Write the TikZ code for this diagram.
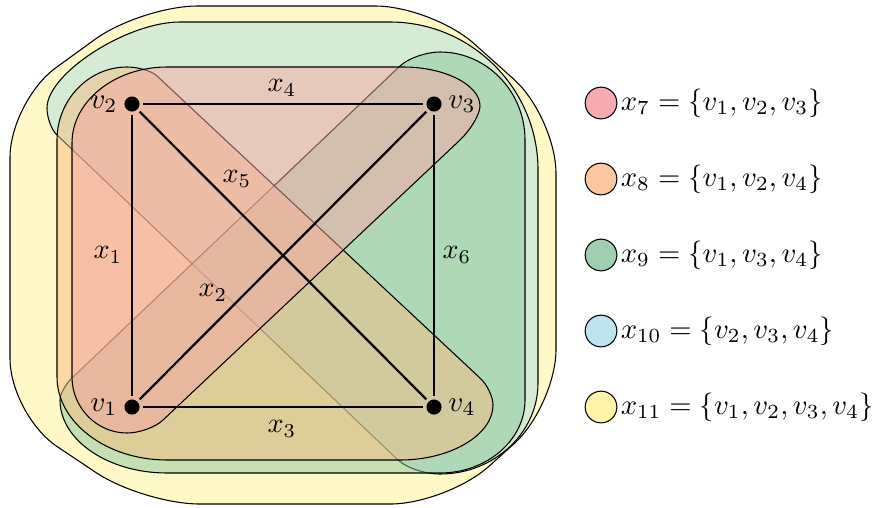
\documentclass[tikz,border=0pt]{standalone}
% shape fills (drawn at half opacity)
\definecolor{fSeven}{RGB}{246,166,165}
\definecolor{fEight}{RGB}{245,187,130}
\definecolor{fNine}{RGB}{137,199,156}
\definecolor{fTen}{RGB}{173,223,224}
\definecolor{fEleven}{RGB}{255,243,145}
% legend fills
\definecolor{cSeven}{RGB}{248,170,178}
\definecolor{cEight}{RGB}{251,199,160}
\definecolor{cNine}{RGB}{160,206,176}
\definecolor{cTen}{RGB}{190,228,240}
\definecolor{cEleven}{RGB}{254,244,168}
\tikzset{
  hyper/.style={draw=black, line width=0.4pt, fill opacity=0.5},
  vtx/.style={circle, fill=black, inner sep=0pt, minimum size=0.2cm, outer sep=0.045cm},
  gedge/.style={line width=0.85pt},
  lab/.style={inner sep=1pt, scale=1.06},
  vlab/.style={inner sep=1pt, scale=1.1},
  legc/.style={circle, draw=black, line width=0.4pt, inner sep=0pt, minimum size=0.42cm},
  legt/.style={anchor=west, inner sep=1pt, scale=1.08},
}
\begin{document}
\begin{tikzpicture}[x=0.013245cm, y=-0.013245cm]
\useasboundingbox (0,0) rectangle (873,507);
% x11
\path[hyper, fill=fEleven, rounded corners=0.75cm] (286,6) -- (432,6) -- (556,117) -- (556,406) -- (447,504) -- (143,504) -- (10,415) -- (10,101) -- (141,6) -- cycle;
% x10
\path[hyper, fill=fTen] (57,135) .. controls (51.5,130) and (47,117.6) .. (47,108)
  .. controls (47,73.6) and (126.8,22) .. (180,22)
  -- (390,22)
  .. controls (471.4,22) and (538,88.6) .. (538,170)
  -- (538,383)
  .. controls (538,433) and (494,474) .. (440,474)
  .. controls (425,474) and (406.1,467.7) .. (398,460)
  -- cycle;
% x9
\path[hyper, fill=fNine] (72,378) -- (400,66) .. controls (408.1,58.3) and (426.1,52) .. (440,52)
  .. controls (486.8,52) and (525,91.6) .. (525,140)
  -- (525,400)
  .. controls (525,440.2) and (486.8,473) .. (440,473)
  -- (167,473)
  .. controls (108.2,473) and (60,440.2) .. (60,400)
  .. controls (60,394.2) and (65.4,384.3) .. (72,378) -- cycle;
% x8
\path[hyper, fill=fEight] (57,377) -- (57,140) .. controls (57,100) and (88.5,67) .. (127,67)
  .. controls (138,67) and (151.7,71) .. (157,76)
  -- (480,378)
  .. controls (487.2,384.6) and (493,396.8) .. (493,405)
  .. controls (493,434.7) and (451,460) .. (400,460)
  -- (167,460)
  .. controls (106.5,460) and (57,422.4) .. (57,377) -- cycle;
% x7
\path[hyper, fill=fSeven] (72,377) -- (72,143) .. controls (72,101) and (115,67) .. (167,67)
  -- (403,67)
  .. controls (445,67) and (480,85) .. (480,106)
  .. controls (480,114) and (471,129.4) .. (460,140)
  -- (163,420)
  .. controls (155.5,427.2) and (139.3,433) .. (127,433)
  .. controls (96.8,433) and (72,407.8) .. (72,377) -- cycle;
% vertices
\node[vtx] (v1) at (132,407) {};
\node[vtx] (v2) at (132,104) {};
\node[vtx] (v3) at (434,104) {};
\node[vtx] (v4) at (434,407) {};
\node[vlab, anchor=east] (n1) at (v1.west) {$v_1$};
\node[vlab, anchor=east] (n2) at (v2.west) {$v_2$};
\node[vlab, anchor=west] (n3) at (v3.east) {$v_3$};
\node[vlab, anchor=west] (n4) at (v4.east) {$v_4$};
% edges
\draw[gedge] (v1) -- (v2);
\draw[gedge] (v1) -- (v3);
\draw[gedge] (v1) -- (v4);
\draw[gedge] (v2) -- (v3);
\draw[gedge] (v2) -- (v4);
\draw[gedge] (v3) -- (v4);
\node[lab] (e1) at (108,255) {$x_1$};
\node[lab] (e2) at (213,293) {$x_2$};
\node[lab] (e3) at (282,429) {$x_3$};
\node[lab] (e4) at (282,88) {$x_4$};
\node[lab] (e5) at (237,179) {$x_5$};
\node[lab] (e6) at (457,255) {$x_6$};
% legend
\node[legc, fill=cSeven] (c7) at (601,103) {};
\node[legc, fill=cEight] (c8) at (601,179) {};
\node[legc, fill=cNine] (c9) at (601,255) {};
\node[legc, fill=cTen] (c10) at (601,331) {};
\node[legc, fill=cEleven] (c11) at (601,407) {};
\node[legt] (t7) at (c7.east) {$x_7=\{v_1,v_2,v_3\}$};
\node[legt] (t8) at (c8.east) {$x_8=\{v_1,v_2,v_4\}$};
\node[legt] (t9) at (c9.east) {$x_9=\{v_1,v_3,v_4\}$};
\node[legt] (t10) at (c10.east) {$x_{10}=\{v_2,v_3,v_4\}$};
\node[legt] (t11) at (c11.east) {$x_{11}=\{v_1,v_2,v_3,v_4\}$};
\end{tikzpicture}
\end{document}
